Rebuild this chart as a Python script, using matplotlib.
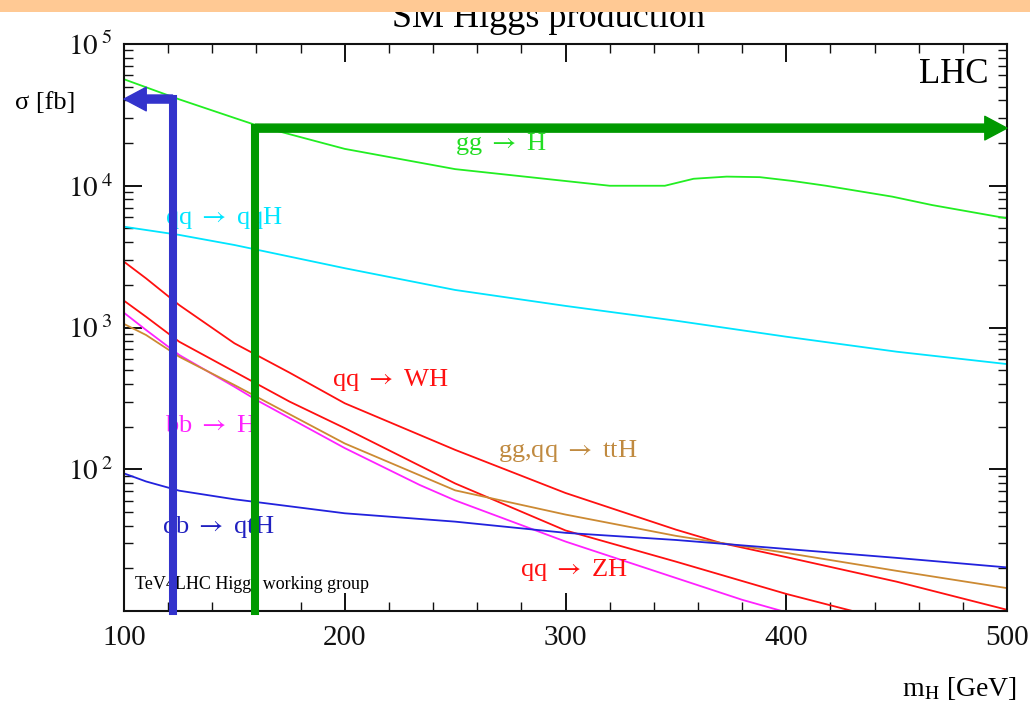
import numpy as np
import matplotlib.pyplot as plt
from matplotlib.patches import Rectangle
from matplotlib.ticker import FuncFormatter, MultipleLocator, LogLocator, NullFormatter

plt.rcParams['font.family'] = ['Liberation Serif', 'DejaVu Serif']
plt.rcParams['mathtext.fontset'] = 'stix'

# SM Higgs cross sections at the LHC, sigma in fb vs m_H in GeV
m_ggH = [100, 125, 150, 160, 175, 200, 250, 300, 320, 345, 358, 373, 388, 403, 418, 448, 466, 500]
s_ggH = [56400, 40700, 30100, 26700, 23100, 18200, 13100, 10800, 10000, 10000, 11200, 11600, 11500,
         10800, 10000, 8380, 7310, 5890]

m_qqH = [100, 125, 150, 200, 250, 300, 350, 400, 450, 500]
s_qqH = [5140, 4500, 3820, 2620, 1840, 1420, 1117, 861, 675, 552]

m_WH = [100, 110, 125, 150, 175, 200, 250, 300, 350, 370, 400, 450, 500]
s_WH = [2910, 2220, 1440, 774, 480, 292, 137, 68, 37.5, 30.3, 24.0, 16.1, 10.2]

m_ZH = [100, 110, 125, 150, 175, 200, 250, 300, 350, 400, 430]
s_ZH = [1545, 1190, 794, 488, 300, 195, 79.4, 37.0, 22.3, 13.2, 10.0]

m_bbH = [100, 110, 125, 150, 160, 200, 234, 250, 300, 350, 380, 400]
s_bbH = [1270, 960, 640, 382, 308, 141, 77.4, 60.3, 30.9, 17.1, 12.0, 9.8]

m_ttH = [100, 110, 125, 150, 160, 200, 250, 300, 350, 370, 400, 450, 500]
s_ttH = [1059, 885, 622, 393, 325, 152, 71.0, 47.9, 33.9, 30.3, 25.7, 19.2, 14.5]

m_qtH = [100, 110, 125, 150, 200, 250, 300, 350, 400, 450, 500]
s_qtH = [93.5, 82.0, 70.6, 61.4, 48.9, 42.7, 35.6, 31.7, 27.4, 23.7, 20.3]

# highlighted masses and the sigma level they point to
m_arrow_low, s_arrow_low = 122, 40900
m_arrow_high, s_arrow_high = 159.5, 25500

fig = plt.figure(figsize=(10.30, 7.04), dpi=100)
ax = fig.add_axes([0.1204, 0.1321, 0.8573, 0.8054])

lw = 1.3
ax.plot(m_ggH, s_ggH, color='#22EE22', lw=lw)
ax.plot(m_qqH, s_qqH, color='#00E5FF', lw=lw)
ax.plot(m_WH, s_WH, color='#FF1010', lw=lw)
ax.plot(m_ZH, s_ZH, color='#FF1010', lw=lw)
ax.plot(m_bbH, s_bbH, color='#FF22FF', lw=lw)
ax.plot(m_ttH, s_ttH, color='#CC8A33', lw=lw)
ax.plot(m_qtH, s_qtH, color='#2222DD', lw=lw)

ax.set_xlim(100, 500)
ax.set_yscale('log')
ax.set_ylim(10, 1e5)

ax.xaxis.set_major_locator(MultipleLocator(100))
ax.xaxis.set_minor_locator(MultipleLocator(20))
ax.yaxis.set_major_locator(LogLocator(base=10))
ax.yaxis.set_minor_locator(LogLocator(base=10, subs=np.arange(2, 10)))
ax.yaxis.set_minor_formatter(NullFormatter())
ax.yaxis.set_major_formatter(FuncFormatter(
    lambda v, pos: '' if v < 50 else r'$10^{\;%d}$' % int(round(np.log10(v)))))

ax.tick_params(which='both', direction='in', top=True, right=True, colors='#111111')
ax.tick_params(which='major', length=13, width=1.4)
ax.tick_params(which='minor', length=6.5, width=1.0)
ax.tick_params(axis='x', labelsize=21, pad=10)
ax.tick_params(axis='y', labelsize=21, pad=8)
for sp in ax.spines.values():
    sp.set_linewidth(1.5)
    sp.set_color('#111111')

# process labels
fs = 19
arr = r' $\rightarrow$ '
ax.text(0.3749, 0.8236, 'gg' + arr + 'H', color='#22DD22', fontsize=fs, va='center', transform=ax.transAxes)
ax.text(0.0464, 0.6930, 'qq' + arr + 'qqH', color='#00E5FF', fontsize=fs, va='center', transform=ax.transAxes)
ax.text(0.2356, 0.4074, 'qq' + arr + 'WH', color='#FF1010', fontsize=fs, va='center', transform=ax.transAxes)
ax.text(0.0464, 0.3263, 'bb' + arr + 'H', color='#FF22FF', fontsize=fs, va='center', transform=ax.transAxes)
ax.text(0.4236, 0.2822, 'gg,qq' + arr + 'ttH', color='#C08A40', fontsize=fs, va='center', transform=ax.transAxes)
ax.text(0.0430, 0.1480, 'qb' + arr + 'qtH', color='#2020C0', fontsize=fs, va='center', transform=ax.transAxes)
ax.text(0.4485, 0.0723, 'qq' + arr + 'ZH', color='#FF1010', fontsize=fs, va='center', transform=ax.transAxes)

ax.text(0.9785, 0.947, 'LHC', fontsize=25, ha='right', va='center', transform=ax.transAxes)
ax.text(0.0125, 0.0459, 'TeV4LHC Higgs working group', fontsize=13, va='center', transform=ax.transAxes)
ax.text(-0.123, 0.896, 'σ [fb]', fontsize=19, ha='left', va='center', transform=ax.transAxes)
ax.text(1.011, -0.136, r'm$_{\rm H}$ [GeV]', fontsize=20, ha='right', va='center', transform=ax.transAxes)

# L-shaped arrows marking the two mass points
blue = '#3333CC'
green = '#009900'
for m, s, col, tip in [(m_arrow_low, s_arrow_low, blue, 100), (m_arrow_high, s_arrow_high, green, 500)]:
    ax.plot([m, m], [10, s], color=col, lw=5.8, solid_capstyle='projecting', clip_on=False, zorder=10)
    ax.annotate('', xy=(tip, s), xytext=(m, s), annotation_clip=False, zorder=10,
                arrowprops=dict(color=col, width=5.8, headwidth=17, headlength=16, shrink=0))

fig.text(548 / 1030, 1 - 27 / 704, 'SM Higgs production', ha='center', va='baseline', fontsize=26)
fig.add_artist(Rectangle((0, 1 - 12 / 704), 1, 12 / 704, transform=fig.transFigure,
                         facecolor='#FFC994', edgecolor='none', zorder=20))

fig.savefig('out.png', dpi=100)
